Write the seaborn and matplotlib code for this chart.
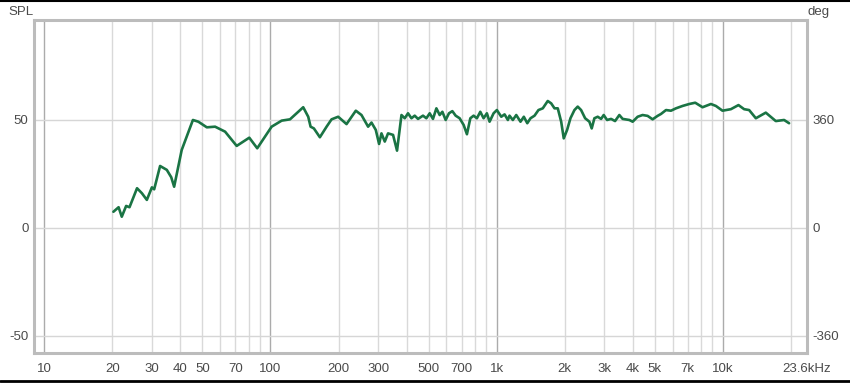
import matplotlib
matplotlib.use("Agg")
import matplotlib.pyplot as plt
import matplotlib.lines as mlines
import seaborn as sns
import pandas as pd

# ---- data (frequency in Hz, level in dB SPL) ----
freq_hz = [20.2, 21.3, 22.0, 23.0, 23.8, 25.7, 27.0, 28.4, 29.9, 30.6,
           32.5, 34.8, 36.4, 37.5, 40.5, 45.4, 48.0, 52.3, 56.9, 63.0,
           70.9, 74.6, 80.6, 87.4, 101.2, 112.1, 122, 139.6, 146.9, 150.5,
           155.6, 165.4, 177.1, 186.3, 199.3, 217, 238.5, 252.7, 270.3, 279.8,
           292.3, 302.3, 309.7, 320.3, 331.2, 348.5, 362.9, 379.7, 392.5, 405.9,
           420.2, 434.5, 449.3, 472.7, 489.3, 506.1, 523.3, 541.8, 560.2, 575.9,
           595.5, 615.8, 637.5, 659.2, 686.5, 715.1, 739.5, 765.5, 791.6, 818.5,
           847.3, 876.3, 906.2, 931.3, 970, 1003, 1049, 1085, 1122, 1141,
           1180, 1222, 1276, 1320, 1367, 1413, 1472, 1532, 1601, 1684,
           1744, 1804, 1865, 1931, 1982, 2051, 2122, 2210, 2285, 2365,
           2464, 2574, 2635, 2708, 2801, 2899, 2977, 3082, 3210, 3342,
           3491, 3611, 3866, 3998, 4206, 4424, 4656, 4898, 5153, 5337,
           5614, 5906, 6215, 6646, 7114, 7561, 8144, 8871, 9333, 9981,
           10870, 11744, 12444, 13092, 14019, 15511, 17174, 18690, 19664]
spl_db = [7.5, 9.6, 5.2, 10.2, 9.6, 18.4, 16.1, 13.0, 18.8, 17.9,
          28.7, 26.9, 23.5, 19.1, 36.1, 50.0, 49.2, 46.6, 46.9, 44.6,
          38.0, 39.5, 41.8, 36.9, 46.9, 49.7, 50.3, 55.9, 51.5, 46.9,
          46.1, 42.0, 46.9, 50.3, 51.5, 48.1, 54.3, 52.3, 46.9, 48.8,
          45.4, 38.9, 43.8, 40.0, 43.8, 43.1, 35.8, 52.3, 50.8, 53.1,
          50.8, 52.0, 50.5, 52.0, 50.8, 53.1, 50.5, 55.4, 52.3, 53.8,
          50.0, 53.1, 54.1, 52.0, 50.8, 47.7, 43.4, 50.8, 52.0, 50.8,
          53.8, 50.8, 53.1, 49.2, 53.1, 54.6, 51.5, 52.6, 50.0, 52.0,
          50.0, 52.3, 49.2, 51.5, 48.5, 50.8, 52.0, 54.6, 55.4, 58.8,
          57.7, 55.4, 55.4, 49.2, 41.5, 45.4, 50.8, 54.6, 56.2, 54.6,
          50.8, 49.2, 46.1, 50.8, 51.5, 50.5, 52.3, 50.0, 50.5, 49.5,
          52.3, 50.5, 50.0, 49.2, 51.5, 52.3, 51.9, 50.3, 51.9, 52.8,
          54.6, 54.3, 55.4, 56.5, 57.4, 58.0, 55.9, 57.4, 56.5, 54.3,
          55.0, 56.9, 55.0, 54.6, 50.8, 53.4, 49.5, 50.0, 48.5]

x_tick_vals = [10, 20, 30, 40, 50, 70, 100, 200, 300, 500, 700,
               1000, 2000, 3000, 4000, 5000, 7000, 10000, 23600]
x_tick_labels = ["10", "20", "30", "40", "50", "70", "100", "200", "300",
                 "500", "700", "1k", "2k", "3k", "4k", "5k", "7k", "10k",
                 "23.6kHz"]
major_grid = [10, 100, 1000, 10000]
minor_grid = [20, 30, 40, 50, 60, 70, 80, 90,
              200, 300, 400, 500, 600, 700, 800, 900,
              2000, 3000, 4000, 5000, 6000, 7000, 8000, 9000, 20000]
spl_ticks = [-50, 0, 50]
deg_ticks = [-360, 0, 360]
deg_per_db = 7.2

df = pd.DataFrame({"freq": freq_hz, "spl": spl_db})

sns.set_style("white")
plt.rcParams["font.family"] = ["Liberation Sans", "DejaVu Sans"]

text_col = "#4a4a4a"
fig = plt.figure(figsize=(8.5, 3.83), dpi=100)
ax = fig.add_axes([34 / 850, 1 - 353 / 383, (807 - 34) / 850, (353 - 20) / 383])

ax.set_xscale("log")
xmin, xmax = 9.0, 23600
ymin, ymax = -57.9, 96.3
ax.set_xlim(xmin, xmax)
ax.set_ylim(ymin, ymax)

for g in minor_grid:
    ax.axvline(g, color="#d9d9d9", lw=1.0, zorder=1)
for g in major_grid:
    ax.axvline(g, color="#ababab", lw=1.0, zorder=1)
for g in spl_ticks:
    ax.axhline(g, color="#d6d6d6", lw=1.0, zorder=1)

sns.lineplot(data=df, x="freq", y="spl", ax=ax, color="#1a7444",
             lw=1.9, zorder=3, estimator=None, sort=False,
             solid_joinstyle="round", solid_capstyle="round")

ax.set_xticks(x_tick_vals)
ax.set_xticklabels(x_tick_labels)
ax.xaxis.set_minor_locator(matplotlib.ticker.NullLocator())
ax.set_yticks(spl_ticks)
ax.set_yticklabels([str(v) for v in spl_ticks])
ax.tick_params(axis="both", length=0, labelsize=9.5, colors=text_col)
ax.tick_params(axis="x", pad=7)
ax.tick_params(axis="y", pad=4)
ax.set_xlabel("")
ax.set_ylabel("")
for s in ax.spines.values():
    s.set_color("#bcbcbc")
    s.set_linewidth(2.2)

ax2 = ax.twinx()
ax2.set_ylim(ymin * deg_per_db, ymax * deg_per_db)
ax2.set_yticks(deg_ticks)
ax2.set_yticklabels([str(v) for v in deg_ticks])
ax2.tick_params(axis="y", length=0, labelsize=9.5, colors=text_col, pad=4)
for s in ax2.spines.values():
    s.set_visible(False)

fig.text(8 / 850, 1 - 12 / 383, "SPL", fontsize=9.5, color=text_col,
         ha="left", va="center")
fig.text(808 / 850, 1 - 12 / 383, "deg", fontsize=9.5, color=text_col,
         ha="left", va="center")

# window border lines at top and bottom
fig.add_artist(mlines.Line2D([0, 1], [1 - 1 / 383, 1 - 1 / 383],
                             transform=fig.transFigure, color="black", lw=1.5))
fig.add_artist(mlines.Line2D([0, 1], [2 / 383, 2 / 383],
                             transform=fig.transFigure, color="black", lw=2.0))

fig.savefig("out.png", dpi=100, facecolor="white")
